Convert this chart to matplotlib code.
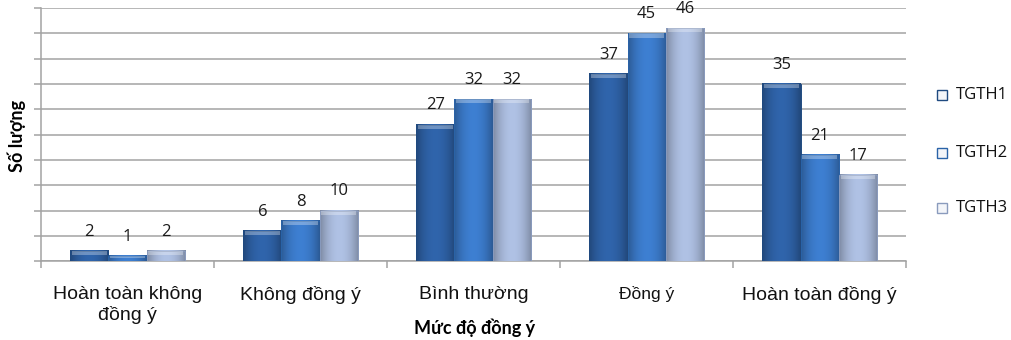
import numpy as np
import matplotlib.pyplot as plt
from matplotlib.colors import to_rgb
from matplotlib.patches import Rectangle

plt.rcParams['font.family'] = ['Liberation Sans', 'DejaVu Sans']

categories = ['Hoàn toàn không\nđồng ý', 'Không đồng ý', 'Bình thường', 'Đồng ý', 'Hoàn toàn đồng ý']
tgth1 = [2, 6, 27, 37, 35]
tgth2 = [1, 8, 32, 45, 21]
tgth3 = [2, 10, 32, 46, 17]
series_names = ['TGTH1', 'TGTH2', 'TGTH3']

colors = ['#2d5fa2', '#3a78c6', '#a6b7d8']
edges = ['#1f4a80', '#2a63a8', '#8a9bbd']
grid_col = '#a3a3a3'


def shaded_bar(ax, xc, h, w, base, edge):
    # horizontal shading: darker sides, lighter middle
    rgb = np.array(to_rgb(base))
    t = np.linspace(-1, 1, 40)
    f = 1.06 - 0.3 * t ** 2
    img = np.clip(rgb[None, :] * f[:, None], 0, 1)[None, :, :]
    ax.imshow(img, extent=(xc - w / 2, xc + w / 2, 0, h), aspect='auto',
              interpolation='bilinear', zorder=3)
    ax.add_patch(Rectangle((xc - w / 2, 0), w, h, fill=False, edgecolor=edge,
                           linewidth=0.7, zorder=4))
    # bevel strip along the top
    bev = min(0.8, h * 0.4)
    ax.add_patch(Rectangle((xc - w / 2 + 0.01, h - bev), w - 0.02, bev,
                           facecolor='white', alpha=0.3, linewidth=0, zorder=4))


fig = plt.figure(figsize=(10.12, 3.4), dpi=100)
ax = fig.add_axes([0.0405, 0.232, 0.855, 0.744])

x = np.arange(len(categories))
w = 0.221
for i, vals in enumerate([tgth1, tgth2, tgth3]):
    pos = x + (i - 1) * w
    for p, v in zip(pos, vals):
        shaded_bar(ax, p, v, w, colors[i], edges[i])
        ax.annotate(str(v), (p, v), xytext=(0, 8), textcoords='offset points',
                    ha='center', va='bottom', fontsize=12, color='#1a1a1a',
                    family=['Open Sans', 'DejaVu Sans'])

ax.set_xlim(-0.5, len(categories) - 0.5)
ax.set_ylim(0, 50)
ax.set_yticks(np.arange(0, 51, 5))
ax.set_yticklabels([])
ax.yaxis.grid(True, color=grid_col, linewidth=1.1, zorder=0)
ax.set_axisbelow(True)
ax.tick_params(axis='y', length=5, color=grid_col, width=1.1)

ax.set_xticks(x)
ax.set_xticklabels(categories, fontsize=14, color='#111111')
ax.set_xticks(np.arange(-0.5, len(categories)), minor=True)
ax.tick_params(axis='x', which='major', length=0, pad=18)
ax.tick_params(axis='x', which='minor', length=5, color=grid_col, width=1.1)
for lbl in ax.get_xticklabels():
    if lbl.get_text() == 'Đồng ý':
        lbl.set_fontsize(12.5)

for side in ['top', 'right']:
    ax.spines[side].set_visible(False)
for side in ['left', 'bottom']:
    ax.spines[side].set_color(grid_col)
    ax.spines[side].set_linewidth(1.1)

label_font = dict(fontsize=13, fontweight='bold', family=['Lato', 'DejaVu Sans'])
ax.set_xlabel('Mức độ đồng ý', va='center', **label_font)
ax.xaxis.set_label_coords(0.501, -0.265)
ax.set_ylabel('Số lượng', va='center', **label_font)
ax.yaxis.set_label_coords(-0.028, 0.494)

# legend entries at the right
leg_y = [95, 153, 208]
for i, name in enumerate(series_names):
    yf = 1 - leg_y[i] / 340
    fig.add_artist(Rectangle((937 / 1012, yf - 5 / 340), 10 / 1012, 10 / 340,
                             transform=fig.transFigure, facecolor='#f3f5f9',
                             edgecolor=edges[i], linewidth=1))
    fig.text(956 / 1012, yf, name, ha='left', va='center', fontsize=12,
             family=['Open Sans', 'DejaVu Sans'], color='#111111')

fig.savefig('out.png', dpi=100)
